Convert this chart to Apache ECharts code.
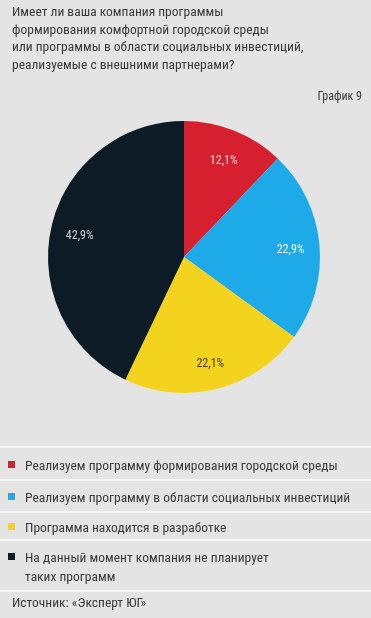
<!DOCTYPE html>
<html><head><meta charset="utf-8">
<script src="https://cdn.jsdelivr.net/npm/echarts@6/dist/echarts.min.js"></script>
<style>html,body{margin:0;padding:0;background:#e4e4e4;}#c{width:371px;height:618px;}</style>
</head><body><div id="c"></div>
<script>
const titleLines = ["Имеет ли ваша компания программы","формирования комфортной городской среды","или программы в области социальных инвестиций,","реализуемые с внешними партнерами?"];
const chartNo = "График 9";
const categories = ["Реализуем программу формирования городской среды","Реализуем программу в области социальных инвестиций","Программа находится в разработке","На данный момент компания не планирует\nтаких программ"];
const values = [12.1, 22.9, 22.1, 42.9];
const colors = ["#d6202f","#1ea9e8","#f3d31e","#0c1b26"];
const labelColors = ["#f6d0d2","#eef8fd","#4a3d0c","#cdd2d6"];
const source = "Источник: «Эксперт ЮГ»";

const FONT = "'Liberation Sans Narrow','Roboto Condensed','DejaVu Sans Condensed',sans-serif";
const chart = echarts.init(document.getElementById('c'));
const data = categories.map((n,i)=>({name:n,value:values[i],itemStyle:{color:colors[i]},label:{color:labelColors[i]}}));
const graphic = [];
titleLines.forEach((t,i)=>graphic.push({type:'text',left:12,top:6+i*17.5,style:{text:t,font:"13.5px "+FONT,fill:'#3a3a3a'}}));
graphic.push({type:'text',right:9,top:91,style:{text:chartNo,font:"12px "+FONT,fill:'#3a3a3a'}});
const seps = [447,480,512,540,591];
seps.forEach(y=>graphic.push({type:'rect',shape:{x:0,y:y-1,width:371,height:2},style:{fill:'#f6f6f6'}}));
const rowTop = [457,489,519,549];
categories.forEach((n,i)=>{
  graphic.push({type:'rect',shape:{x:8,y:rowTop[i]+4,width:7,height:7},style:{fill:colors[i]}});
  graphic.push({type:'text',left:25,top:rowTop[i],style:{text:n,font:"13.5px "+FONT,fill:'#3a3a3a',lineHeight:19}});
});
graphic.push({type:'text',left:12,top:597,style:{text:source,font:"13.5px "+FONT,fill:'#3a3a3a'}});

chart.setOption({
  backgroundColor:'#e4e4e4',
  animation:false,
  graphic:graphic,
  series:[
    {type:'pie',center:[184,257],radius:136,startAngle:90,clockwise:true,data:data,
     label:{show:false},labelLine:{show:false},emphasis:{disabled:true},silent:true},
    {type:'pie',center:[184,260],radius:[72,136],startAngle:90,clockwise:true,
     data:data.map(d=>({name:d.name,value:d.value,itemStyle:{color:'rgba(0,0,0,0)'},label:d.label})),
     label:{show:true,position:'inside',formatter:p=>String(p.value).replace('.',',')+'%',fontSize:12,fontFamily:FONT},
     labelLine:{show:false},emphasis:{disabled:true},silent:true}
  ]
});
</script></body></html>
